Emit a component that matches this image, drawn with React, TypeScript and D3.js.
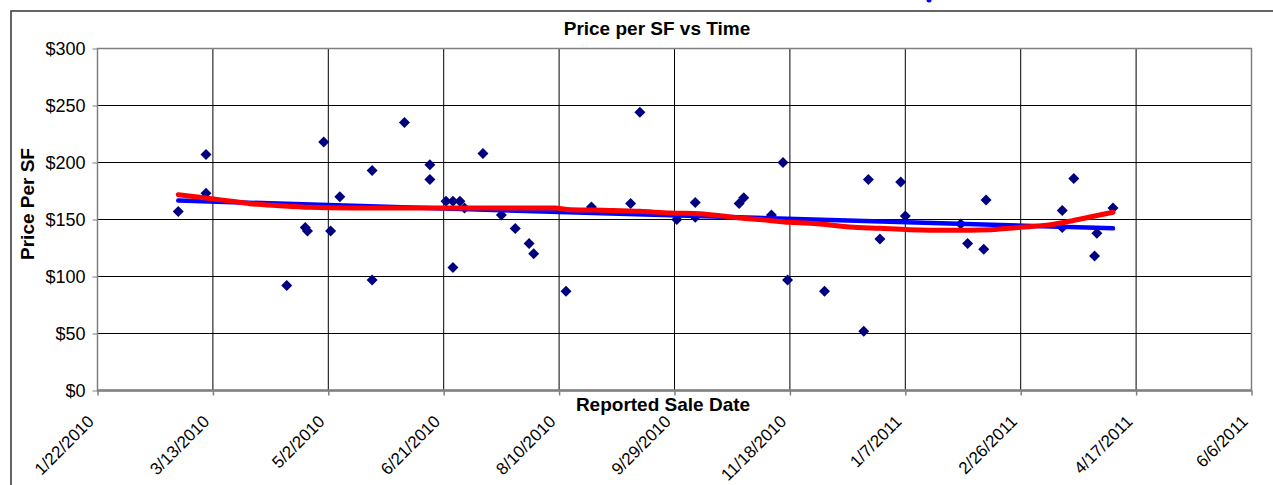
import { useEffect, useRef } from 'react';
import * as d3 from 'd3';

// sale records
const saleDates = [
  '2010-02-26', '2010-03-10', '2010-03-10', '2010-04-14', '2010-04-22', '2010-04-23',
  '2010-04-30', '2010-05-03', '2010-05-07', '2010-05-21', '2010-05-21', '2010-06-04',
  '2010-06-15', '2010-06-15', '2010-06-22', '2010-06-25', '2010-06-25', '2010-06-28',
  '2010-06-30', '2010-07-08', '2010-07-16', '2010-07-22', '2010-07-28', '2010-07-30',
  '2010-08-13', '2010-08-24', '2010-09-10', '2010-09-14', '2010-09-30', '2010-10-08',
  '2010-10-08', '2010-10-27', '2010-10-29', '2010-11-10', '2010-11-15', '2010-11-17',
  '2010-12-03', '2010-12-20', '2010-12-22', '2010-12-27', '2011-01-05', '2011-01-07',
  '2011-01-31', '2011-02-03', '2011-02-10', '2011-02-11', '2011-03-16', '2011-03-16',
  '2011-03-21', '2011-03-30', '2011-03-31', '2011-04-07',
];
const pricePerSF = [
  157, 207, 173, 92, 143, 140,
  218, 140, 170, 193, 97, 235,
  198, 185, 166, 166, 108, 166,
  160, 208, 154, 142, 129, 120,
  87, 161, 164, 244, 150, 165,
  152, 164, 169, 154, 200, 97,
  87, 52, 185, 133, 183, 153,
  146, 129, 124, 167, 158, 143,
  186, 118, 138, 160,
];

// red smoothed trend
const smoothDates = [
  '2010-02-26', '2010-03-10', '2010-03-21', '2010-03-29', '2010-04-11', '2010-04-24',
  '2010-05-12', '2010-06-02', '2010-06-24', '2010-08-08', '2010-08-15', '2010-09-01',
  '2010-09-14', '2010-09-27', '2010-10-10', '2010-10-23', '2010-11-05', '2010-11-18',
  '2010-12-01', '2010-12-14', '2010-12-27', '2011-01-09', '2011-01-26', '2011-02-13',
  '2011-02-26', '2011-03-11', '2011-03-19', '2011-03-28', '2011-04-07',
];
const smoothValues = [
  171.8, 168.9, 166, 163.9, 162.1, 160.7,
  160.1, 160, 160, 160, 158.6, 158,
  157.2, 155.7, 155.1, 152.2, 149.9, 147.5,
  146.1, 143.5, 142.3, 141.1, 140.5, 141.1,
  143.1, 145.5, 148.4, 152.2, 156.3,
];

const xTickDates = [
  '2010-01-22', '2010-03-13', '2010-05-02', '2010-06-21', '2010-08-10', '2010-09-29',
  '2010-11-18', '2011-01-07', '2011-02-26', '2011-04-17', '2011-06-06',
];
const yTickValues = [0, 50, 100, 150, 200, 250, 300];

const W = 1273;
const H = 485;
const plot = { left: 97.5, right: 1251.5, top: 48.5, bottom: 390.5 };
const FONT = '"Liberation Sans", Arial, sans-serif';

export default function App() {
  const svgRef = useRef<SVGSVGElement>(null);

  useEffect(() => {
    if (!svgRef.current) return;
    const parse = d3.utcParse('%Y-%m-%d');
    const fmt = d3.utcFormat('%-m/%-d/%Y');
    const ticks = xTickDates.map((d) => parse(d) as Date);
    const points = saleDates.map((d, i) => ({ date: parse(d) as Date, value: pricePerSF[i] }));
    const smooth = smoothDates.map((d, i) => ({ date: parse(d) as Date, value: smoothValues[i] }));

    const x = d3.scaleUtc().domain([ticks[0], ticks[ticks.length - 1]]).range([plot.left, plot.right]);
    const y = d3.scaleLinear().domain([0, 300]).range([plot.bottom, plot.top]);

    const svg = d3.select(svgRef.current);
    svg.selectAll('*').remove();
    svg.attr('width', W).attr('height', H).style('font-family', FONT);

    svg.append('rect').attr('width', W).attr('height', H).attr('fill', '#fff');

    // chart area frame (cut by the page edges)
    svg.append('path')
      .attr('d', `M11,${H + 5} L11,11 L${W + 5},11`)
      .attr('fill', 'none')
      .attr('stroke', '#333')
      .attr('stroke-width', 1.5);

    // something blue peeking in from above
    svg.append('ellipse').attr('cx', 929).attr('cy', 0).attr('rx', 2.5).attr('ry', 2.5).attr('fill', '#0000ff');

    // gridlines
    svg.append('g')
      .selectAll('line')
      .data(yTickValues.filter((v) => v > 0 && v < 300))
      .join('line')
      .attr('x1', plot.left)
      .attr('x2', plot.right)
      .attr('y1', (d) => y(d))
      .attr('y2', (d) => y(d))
      .attr('stroke', '#000')
      .attr('stroke-width', 1);
    svg.append('g')
      .selectAll('line')
      .data(ticks.slice(1, -1))
      .join('line')
      .attr('x1', (d) => x(d))
      .attr('x2', (d) => x(d))
      .attr('y1', plot.top)
      .attr('y2', plot.bottom)
      .attr('stroke', '#000')
      .attr('stroke-width', 1);

    svg.append('rect')
      .attr('x', plot.left)
      .attr('y', plot.top)
      .attr('width', plot.right - plot.left)
      .attr('height', plot.bottom - plot.top)
      .attr('fill', 'none')
      .attr('stroke', '#808080')
      .attr('stroke-width', 1.5);

    // axes
    const yAxis = svg.append('g')
      .attr('transform', `translate(${plot.left},0)`)
      .call(d3.axisLeft(y).tickValues(yTickValues).tickFormat((d) => `$${d}`).tickSize(5));
    yAxis.select('.domain').remove();
    yAxis.selectAll('line').attr('stroke', '#808080');
    yAxis.selectAll('text')
      .attr('x', -12)
      .attr('font-size', 18)
      .attr('font-family', FONT)
      .attr('fill', '#000');

    const xAxis = svg.append('g')
      .attr('transform', `translate(0,${plot.bottom})`)
      .call(d3.axisBottom(x).tickValues(ticks).tickFormat((d) => fmt(d as Date)).tickSize(5));
    xAxis.select('.domain').remove();
    xAxis.selectAll('line').attr('stroke', '#808080').attr('stroke-width', 1.5);
    xAxis.selectAll('text')
      .attr('x', 0)
      .attr('y', 0)
      .attr('dy', 0)
      .attr('transform', 'translate(-3,32) rotate(-45)')
      .attr('text-anchor', 'end')
      .attr('font-size', 17)
      .attr('font-family', FONT)
      .attr('fill', '#000');

    svg.append('line')
      .attr('x1', plot.left)
      .attr('x2', plot.right)
      .attr('y1', plot.bottom)
      .attr('y2', plot.bottom)
      .attr('stroke', '#808080')
      .attr('stroke-width', 2.5);

    // markers
    svg.append('g')
      .selectAll('path')
      .data(points)
      .join('path')
      .attr('transform', (d) => `translate(${x(d.date)},${y(d.value)})`)
      .attr('d', 'M0,-5.5L5.5,0L0,5.5L-5.5,0Z')
      .attr('fill', '#000080');

    // linear trend (least squares)
    const xs = points.map((p) => +p.date);
    const ys = points.map((p) => p.value);
    const mx = d3.mean(xs) as number;
    const my = d3.mean(ys) as number;
    const slope =
      d3.sum(xs, (v, i) => (v - mx) * (ys[i] - my)) / d3.sum(xs, (v) => (v - mx) * (v - mx));
    const x0 = d3.min(xs) as number;
    const x1 = d3.max(xs) as number;
    const linear = [x0, x1].map((v) => ({ date: new Date(v), value: my + slope * (v - mx) }));

    const line = d3
      .line<{ date: Date; value: number }>()
      .x((d) => x(d.date))
      .y((d) => y(d.value));

    svg.append('path')
      .attr('d', line(linear))
      .attr('fill', 'none')
      .attr('stroke', '#0000ff')
      .attr('stroke-width', 4.5)
      .attr('stroke-linecap', 'round');

    svg.append('path')
      .attr('d', line.curve(d3.curveMonotoneX)(smooth))
      .attr('fill', 'none')
      .attr('stroke', '#ff0000')
      .attr('stroke-width', 5)
      .attr('stroke-linecap', 'round')
      .attr('stroke-linejoin', 'round');

    // titles
    svg.append('text')
      .attr('x', 657)
      .attr('y', 35)
      .attr('text-anchor', 'middle')
      .attr('font-size', 19)
      .attr('font-weight', 'bold')
      .text('Price per SF vs Time');

    svg.append('text')
      .attr('x', 663)
      .attr('y', 411)
      .attr('text-anchor', 'middle')
      .attr('font-size', 19)
      .attr('font-weight', 'bold')
      .text('Reported Sale Date');

    svg.append('text')
      .attr('transform', 'translate(34,204) rotate(-90)')
      .attr('text-anchor', 'middle')
      .attr('font-size', 19)
      .attr('font-weight', 'bold')
      .text('Price Per SF');
  }, []);

  return <svg ref={svgRef} style={{ position: 'absolute', left: 0, top: 0, display: 'block' }} />;
}
